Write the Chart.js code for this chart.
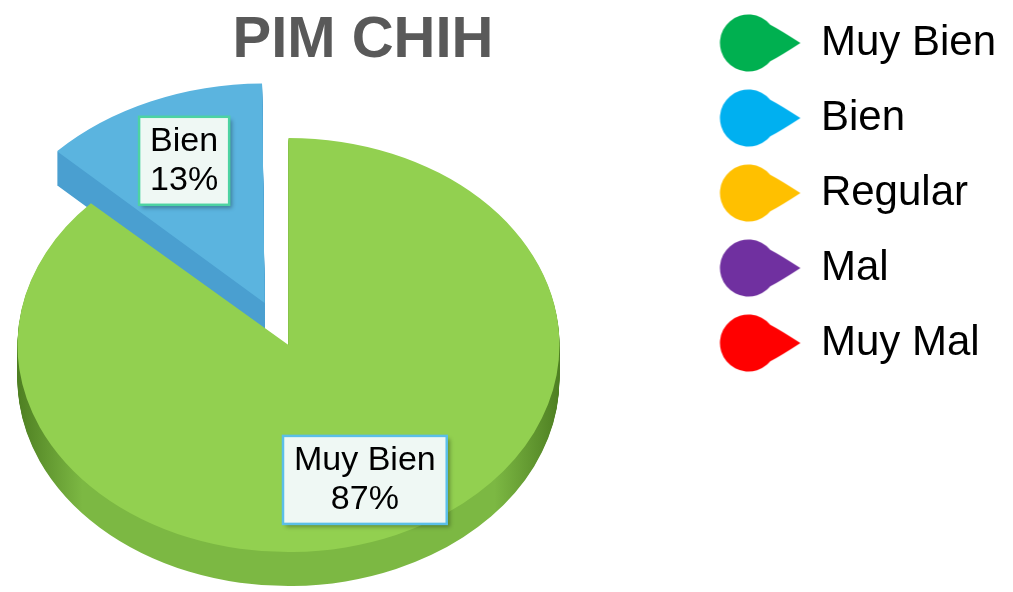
<!DOCTYPE html>
<html>
<head>
<meta charset="utf-8">
<script src="https://cdn.jsdelivr.net/npm/chart.js@4.4.1/dist/chart.umd.min.js"></script>
<style>
  html, body { margin: 0; padding: 0; background: #fff; overflow: hidden; }
</style>
</head>
<body>
<canvas id="myChart" width="1013" height="592"></canvas>
<script>
const chartTitle = 'PIM CHIH';
const categories = ['Muy Bien', 'Bien', 'Regular', 'Mal', 'Muy Mal'];
const values = [87, 13, 0, 0, 0];
const sliceColors = ['#92D050', '#5BB4DF', '#FFC000', '#7030A0', '#FF0000'];
const sideColors = ['#7CB843', '#4A9FD0', '#D9A300', '#5A2585', '#CC0000'];
const sideEdges = ['#4E7F22', '#3480B0', '#A07800', '#401A60', '#990000'];
const legendColors = ['#00B050', '#00B0F0', '#FFC000', '#7030A0', '#FF0000'];
const labelBorders = ['#5BBFE8', '#4DD3A2', '#5BBFE8', '#5BBFE8', '#5BBFE8'];
const total = values.reduce((a, b) => a + b, 0);

// teardrop markers for the legend (drawn off to the right of a wide box)
function makeMarker(color) {
    const c = document.createElement('canvas');
    c.width = 240;
    c.height = 64;
    const g = c.getContext('2d');
    const cx = 120 + 52, cy = 32, r = 28.5;
    const a = 40 * Math.PI / 180;
    g.fillStyle = color;
    g.beginPath();
    g.moveTo(cx + 52, cy);
    g.quadraticCurveTo(cx + 32, cy - 13, cx + r * Math.cos(a), cy - r * Math.sin(a));
    g.arc(cx, cy, r, -a, a, true);
    g.quadraticCurveTo(cx + 32, cy + 13, cx + 52, cy);
    g.closePath();
    g.fill();
    return c;
}
const markers = legendColors.map(makeMarker);

const pieTilt = {
    id: 'pieTilt',
    beforeDatasetsDraw(chart, args, opts) {
        const ctx = chart.ctx;
        const arcs = chart.getDatasetMeta(0).data;
        const cx = arcs[0].x, cy = arcs[0].y, r = arcs[0].outerRadius;
        const tilt = () => {
            ctx.translate(cx, opts.centerY);
            ctx.scale(1, opts.ratio);
            ctx.translate(-cx, -cy);
        };
        const sides = sideColors.map((c, i) => {
            const g = ctx.createLinearGradient(cx - r, 0, cx + r, 0);
            g.addColorStop(0, sideEdges[i]);
            g.addColorStop(0.12, c);
            g.addColorStop(0.88, c);
            g.addColorStop(1, sideEdges[i]);
            return g;
        });
        for (let d = opts.depth; d > 0; d--) {
            ctx.save();
            ctx.translate(0, d);
            tilt();
            for (let i = arcs.length - 1; i >= 0; i--) {
                if (!values[i])
                    continue;
                const arc = arcs[i];
                const keep = arc.options;
                arc.options = Object.assign({}, keep, {backgroundColor: sides[i], borderWidth: 0});
                arc.draw(ctx);
                arc.options = keep;
            }
            ctx.restore();
        }
        ctx.save();
        tilt();
    },
    afterDatasetsDraw(chart, args, opts) {
        const ctx = chart.ctx;
        ctx.restore();
        const arcs = chart.getDatasetMeta(0).data;
        ctx.save();
        ctx.font = opts.labelSize + 'px "Liberation Sans", Arial, sans-serif';
        ctx.textAlign = 'center';
        ctx.textBaseline = 'middle';
        arcs.forEach((arc, i) => {
            if (!values[i])
                return;
            const mid = (arc.startAngle + arc.endAngle) / 2;
            const dist = opts.labelAt[i] * arc.outerRadius + (arc.options.offset || 0) / 4;
            const x = arc.x + Math.cos(mid) * dist;
            const y = opts.centerY + Math.sin(mid) * dist * opts.ratio;
            const lines = [categories[i], Math.round(values[i] / total * 100) + '%'];
            const w = Math.max(...lines.map(t => ctx.measureText(t).width)) + 22;
            const h = lines.length * 39 + 10;
            ctx.shadowColor = 'rgba(0,0,0,0.3)';
            ctx.shadowBlur = 4;
            ctx.shadowOffsetX = 3;
            ctx.shadowOffsetY = 3;
            ctx.fillStyle = '#EFF8F4';
            ctx.fillRect(x - w / 2, y - h / 2, w, h);
            ctx.shadowColor = 'transparent';
            ctx.lineWidth = 2.5;
            ctx.strokeStyle = labelBorders[i];
            ctx.strokeRect(x - w / 2, y - h / 2, w, h);
            ctx.fillStyle = '#000';
            lines.forEach((t, j) => ctx.fillText(t, x, y - h / 2 + 5 + 19.5 + j * 39));
        });
        ctx.restore();
    }
};

const titleText = {
    id: 'titleText',
    afterDraw(chart, args, opts) {
        const ctx = chart.ctx;
        ctx.save();
        ctx.font = 'bold 58px "Liberation Sans", Arial, sans-serif';
        ctx.fillStyle = '#595959';
        ctx.textAlign = 'center';
        ctx.textBaseline = 'alphabetic';
        ctx.fillText(chartTitle, opts.x, opts.y);
        ctx.restore();
    }
};

new Chart('myChart', {
    type: 'pie',
    data: {
        labels: categories,
        datasets: [{
            data: values,
            backgroundColor: sliceColors,
            borderWidth: 0,
            offset: [0, 240, 0, 0, 0],
            radius: 271,
            clip: false
        }]
    },
    plugins: [pieTilt, titleText],
    options: {
        responsive: false,
        animation: false,
        events: [],
        layout: {padding: {top: 6, right: 7}},
        plugins: {
            tooltip: {enabled: false},
            title: {display: false},
            pieTilt: {ratio: 0.764, centerY: 345, depth: 34, labelSize: 34, labelAt: [0.71, 0.748, 0.7, 0.7, 0.7]},
            titleText: {x: 363, y: 57},
            legend: {
                position: 'right',
                align: 'start',
                labels: {
                    usePointStyle: true,
                    pointStyleWidth: 207,
                    padding: 16,
                    color: '#000',
                    font: {family: '"Liberation Sans", Arial, sans-serif', size: 42, lineHeight: 1.405},
                    generateLabels: function (chart) {
                        return categories.map((c, i) => ({
                            text: [c],
                            fillStyle: legendColors[i],
                            strokeStyle: legendColors[i],
                            lineWidth: 0,
                            pointStyle: markers[i],
                            fontColor: '#000',
                            hidden: false,
                            index: i
                        }));
                    }
                }
            }
        }
    }
});
</script>
</body>
</html>
